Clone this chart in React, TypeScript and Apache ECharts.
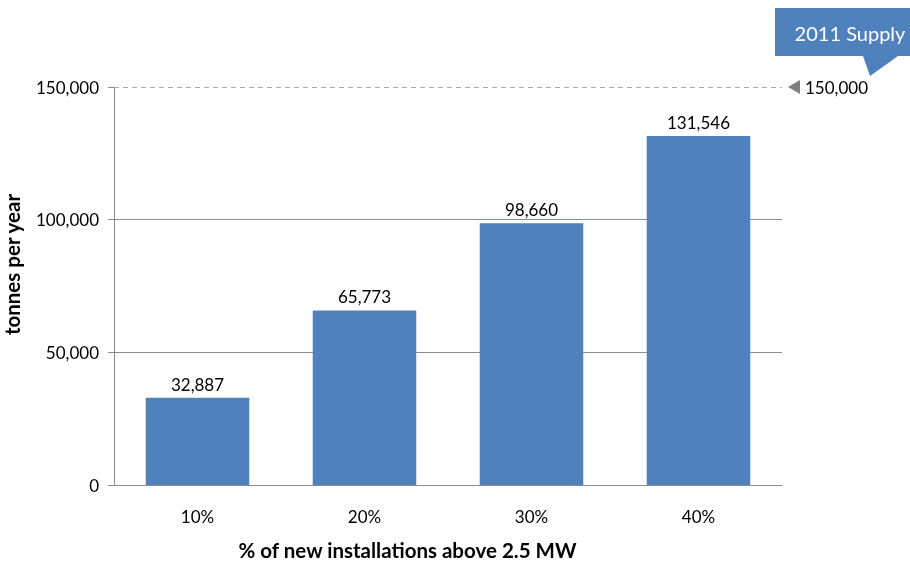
import React, { useEffect, useRef } from "react";
import * as echarts from "echarts";

const categories = ["10%", "20%", "30%", "40%"];
const tonnes = [32887, 65773, 98660, 131546];
const supply2011 = 150000;
const supplyLabel = "2011 Supply";

const FONT = "Lato, 'Open Sans', sans-serif";
const fmt = (v: number) => v.toLocaleString("en-US");

const GRID = { left: 114, right: 128, top: 87, bottom: 80 };
const WIDTH = 910;
const HEIGHT = 565;

export default function App() {
  const ref = useRef<HTMLDivElement>(null);

  useEffect(() => {
    if (!ref.current) return;
    const chart = echarts.init(ref.current, null, { renderer: "svg" });
    chart.setOption({
      animation: false,
      grid: { ...GRID, outerBoundsMode: "none" },
      textStyle: { fontFamily: FONT },
      xAxis: {
        type: "category",
        data: categories,
        axisLine: { lineStyle: { color: "#8c8c8c" } },
        axisTick: { show: false },
        axisLabel: { color: "#000", fontSize: 17, margin: 23, fontFamily: FONT },
        name: "% of new installations above 2.5 MW",
        nameLocation: "middle",
        nameGap: 54,
        nameTextStyle: {
          color: "#000",
          fontSize: 20.5,
          fontWeight: "bold",
          fontFamily: FONT,
          padding: [0, 81, 0, 0],
        },
      },
      yAxis: {
        type: "value",
        min: 0,
        max: 150000,
        interval: 50000,
        axisLine: { show: true, lineStyle: { color: "#8c8c8c" } },
        axisTick: { show: true, length: 6, lineStyle: { color: "#8c8c8c" } },
        axisLabel: {
          color: "#000",
          fontSize: 17,
          margin: 15,
          fontFamily: FONT,
          formatter: (v: number) => fmt(v),
        },
        splitLine: {
          show: true,
          lineStyle: { color: ["#8c8c8c", "#8c8c8c", "#8c8c8c", "transparent"], width: 1 },
        },
        name: "tonnes per year",
        nameLocation: "middle",
        nameGap: 92,
        nameTextStyle: {
          color: "#000",
          fontSize: 20.5,
          fontWeight: "bold",
          fontFamily: FONT,
          padding: [0, 0, 0, 43],
        },
      },
      series: [
        {
          type: "bar",
          data: tonnes,
          barWidth: "62%",
          itemStyle: { color: "#4f81bd" },
          label: {
            show: true,
            position: "top",
            distance: 5,
            color: "#000",
            fontSize: 17,
            fontFamily: FONT,
            formatter: (p: any) => fmt(p.value),
          },
          markLine: {
            silent: true,
            symbol: ["none", "none"],
            lineStyle: { color: "#aaaaaa", type: [5, 4], width: 1 },
            label: { show: false },
            data: [{ yAxis: supply2011 }],
          },
        },
      ],
    });

    // The supply marker sits just right of the plot area at the 150,000 level.
    const yLine = chart.convertToPixel({ yAxisIndex: 0 }, supply2011) as number;
    const tipX = WIDTH - GRID.right + 6;
    chart.setOption({
      graphic: [
        {
          type: "polygon",
          shape: {
            points: [
              [tipX, yLine],
              [tipX + 12, yLine - 7],
              [tipX + 12, yLine + 7],
            ],
          },
          style: { fill: "#7f7f7f" },
        },
        {
          type: "text",
          x: tipX + 17,
          y: yLine,
          style: {
            text: fmt(supply2011),
            fill: "#000",
            font: `17px ${FONT}`,
            verticalAlign: "middle",
          },
        },
        {
          type: "polygon",
          shape: {
            points: [
              [775, 8],
              [912, 8],
              [912, 56],
              [898, 56],
              [870, 76],
              [863, 56],
              [775, 56],
            ],
          },
          style: { fill: "#4f81bd" },
        },
        {
          type: "text",
          x: 850,
          y: 33,
          style: {
            text: supplyLabel,
            fill: "#fff",
            font: `20px ${FONT}`,
            align: "center",
            verticalAlign: "middle",
          },
        },
      ],
    });

    return () => chart.dispose();
  }, []);

  return (
    <div
      ref={ref}
      style={{ position: "fixed", left: 0, top: 0, width: WIDTH, height: HEIGHT }}
    />
  );
}
